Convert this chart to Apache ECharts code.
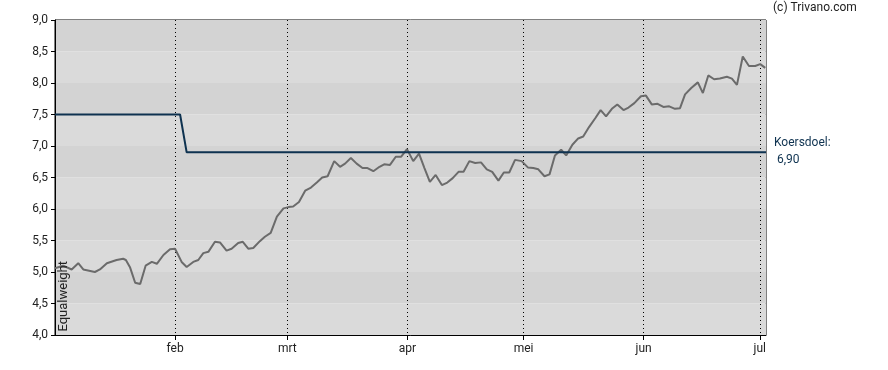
<!DOCTYPE html>
<html>
<head>
<meta charset="utf-8">
<script src="https://cdn.jsdelivr.net/npm/echarts@6/dist/echarts.min.js"></script>
<style>
html,body{margin:0;padding:0;background:#fff;}
#chart{width:888px;height:370px;}
</style>
</head>
<body>
<div id="chart"></div>
<script>
// x values are days since 1 Jan 2024
const monthDays = [31, 60, 91, 121, 152, 182];
const monthNames = ['feb', 'mrt', 'apr', 'mei', 'jun', 'jul'];
const yTicks = [4.0, 4.5, 5.0, 5.5, 6.0, 6.5, 7.0, 7.5, 8.0, 8.5, 9.0];

const priceDays = [0,2.1,4.3,6.0,7.3,10.3,11.6,13.4,15.9,17.6,18.3,19.4,20.7,22.0,23.4,25.0,26.3,28.0,29.7,31.0,
  32.7,34.0,35.7,37.0,38.3,39.6,41.3,42.6,44.3,45.6,47.3,48.5,49.9,51.2,52.9,54.2,55.7,57.3,59.0,60.3,61.5,63.0,
  64.6,66.1,67.6,69.0,70.4,72.1,73.6,74.9,76.4,77.9,79.4,80.7,82.2,83.8,85.0,86.5,88.0,89.4,90.9,92.5,94.0,95.4,
  96.8,98.3,99.9,101.3,102.7,104.2,105.5,107.0,108.5,110.0,111.5,112.9,114.5,115.9,117.3,118.8,120.5,122.1,123.5,
  124.8,126.4,127.7,129.1,130.7,132.0,133.6,135.1,136.4,137.9,139.5,140.9,142.3,143.8,145.2,146.8,148.1,149.6,
  151.3,152.6,154.1,155.6,157.1,158.6,160.1,161.4,162.7,164.3,166.0,167.3,168.7,170.2,171.7,173.5,174.8,176.1,
  177.6,179.2,180.8,182.1,183.4];
const priceValues = [5.06,5.10,5.04,5.14,5.04,5.00,5.04,5.14,5.19,5.21,5.19,5.07,4.83,4.81,5.10,5.16,5.13,5.27,5.36,5.37,
  5.16,5.08,5.16,5.19,5.30,5.32,5.48,5.47,5.34,5.37,5.46,5.48,5.37,5.38,5.49,5.56,5.62,5.88,6.01,6.03,6.04,6.11,
  6.29,6.34,6.42,6.50,6.52,6.76,6.67,6.72,6.81,6.72,6.65,6.65,6.60,6.67,6.71,6.70,6.83,6.83,6.95,6.76,6.88,6.65,
  6.43,6.54,6.38,6.42,6.49,6.59,6.59,6.76,6.73,6.74,6.63,6.59,6.45,6.58,6.58,6.78,6.76,6.66,6.65,
  6.63,6.52,6.55,6.85,6.94,6.85,7.02,7.12,7.15,7.30,7.44,7.57,7.47,7.59,7.66,7.57,7.61,7.68,
  7.79,7.80,7.66,7.67,7.62,7.63,7.59,7.60,7.82,7.92,8.01,7.84,8.12,8.06,8.07,8.10,8.07,7.97,
  8.42,8.27,8.27,8.30,8.24];

const targetDays = [0, 32.3, 34.0, 183.6];
const targetValues = [7.5, 7.5, 6.9, 6.9];
const targetLabel = 'Koersdoel:';
const targetValueText = '6,90';
const yAxisName = 'Equalweight';
const copyright = '(c) Trivano.com';

const xMin = 0, xMax = 183.6;

const chart = echarts.init(document.getElementById('chart'), null, {renderer: 'canvas'});
const font = 'Roboto, "Liberation Sans", Arial, sans-serif';

chart.setOption({
  animation: false,
  backgroundColor: '#fff',
  grid: {left: 55, top: 20, right: 122, bottom: 35, show: true, borderColor: '#000', borderWidth: 1, backgroundColor: 'transparent'},
  xAxis: {
    type: 'value', min: xMin, max: xMax,
    axisLine: {show: true, lineStyle: {color: '#000', width: 1}},
    axisTick: {show: true, length: 5, customValues: monthDays, lineStyle: {color: '#000'}},
    axisLabel: {show: true, customValues: monthDays, margin: 8, color: '#222', fontSize: 12, fontFamily: font,
      formatter: function (v) { const i = monthDays.indexOf(Math.round(v)); return i >= 0 ? monthNames[i] : ''; }},
    splitLine: {show: true, lineStyle: {type: [1, 3], color: '#000', width: 1}}
  },
  yAxis: {
    type: 'value', min: yTicks[0], max: yTicks[yTicks.length - 1], interval: 0.5,
    axisLine: {show: true, lineStyle: {color: '#000', width: 1}},
    axisTick: {show: true, length: 4, lineStyle: {color: '#000'}},
    axisLabel: {margin: 7, color: '#222', fontSize: 12, fontFamily: font,
      formatter: function (v) { return v.toFixed(1).replace('.', ','); }},
    splitLine: {show: false},
    splitArea: {show: true, areaStyle: {color: ['#dadada', '#d3d3d3']}}
  },
  series: [
    {
      type: 'line', name: 'price', showSymbol: false, symbol: 'none',
      data: priceDays.map((d, i) => [d, priceValues[i]]),
      lineStyle: {color: '#6b6b6b', width: 2}, z: 3
    },
    {
      type: 'line', name: 'target', showSymbol: false, symbol: 'none',
      data: targetDays.map((d, i) => [d, targetValues[i]]),
      lineStyle: {color: '#0e3250', width: 2}, z: 4
    }
  ],
  graphic: [
    {type: 'text', left: 773, top: 2, style: {text: copyright, fontSize: 12, fontFamily: font, fill: '#222'}},
    {type: 'text', left: 774, top: 137, style: {text: targetLabel, fontSize: 12, fontFamily: font, fill: '#0e3250'}},
    {type: 'text', left: 777, top: 154, style: {text: targetValueText, fontSize: 12, fontFamily: font, fill: '#0e3250'}},
    {type: 'text', left: 57, top: 261, rotation: Math.PI / 2, z: 100,
      style: {text: yAxisName, fontSize: 13, fontFamily: font, fill: '#222'}}
  ]
});
</script>
</body>
</html>
